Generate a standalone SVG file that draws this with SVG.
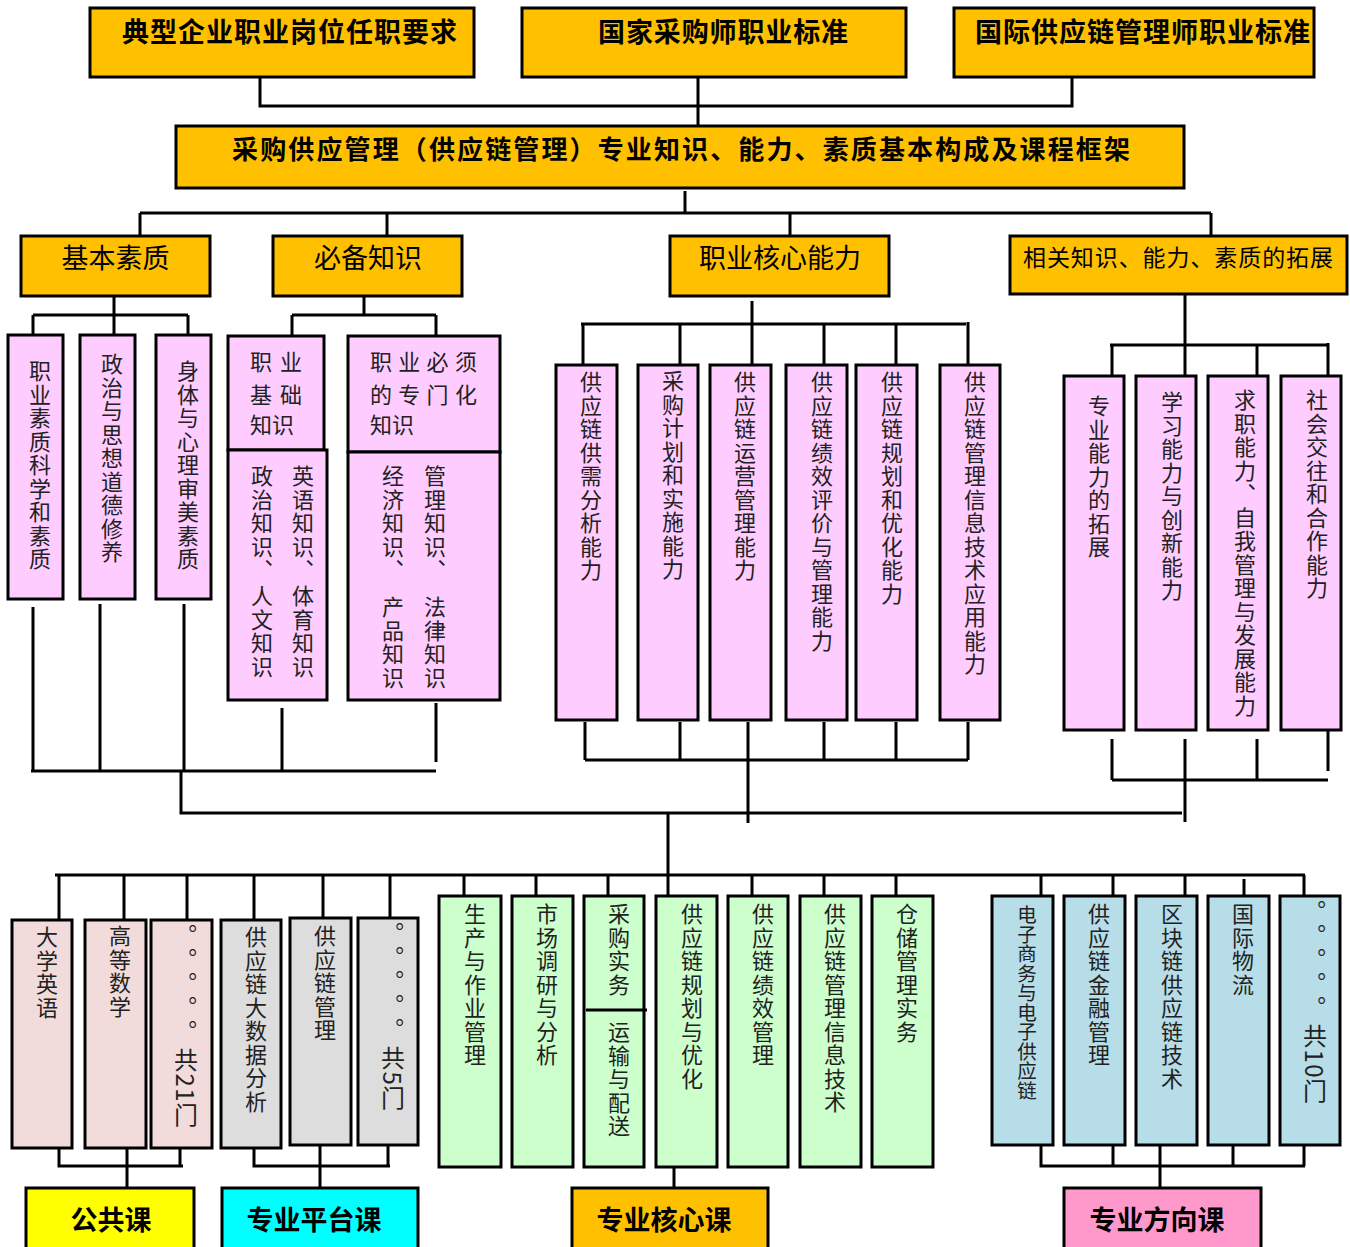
<svg xmlns="http://www.w3.org/2000/svg" width="1350" height="1247" viewBox="0 0 1350 1247">
<style>
.o{fill:#FFC000;stroke:#000;stroke-width:3}
.p{fill:#FFCCFF;stroke:#000;stroke-width:3}
.r{fill:#F2DCDB;stroke:#000;stroke-width:3}
.g{fill:#DDDDDD;stroke:#000;stroke-width:3}
.gr{fill:#CCFFCC;stroke:#000;stroke-width:3}
.b{fill:#B7DDE8;stroke:#000;stroke-width:3}
.t{font-family:"Noto Sans CJK SC","Noto Sans CJK JP",sans-serif;fill:#000}
.tb{font-family:"Noto Sans CJK SC","Noto Sans CJK JP",sans-serif;font-weight:bold;fill:#000}
.v{font-family:"Noto Sans CJK SC","Noto Sans CJK JP",sans-serif;font-size:22px;letter-spacing:1.5px;writing-mode:vertical-rl;fill:#222}
.h{font-family:"Noto Sans CJK SC","Noto Sans CJK JP",sans-serif;font-size:22px;fill:#222}
.c{fill:none;stroke:#000;stroke-width:3}
</style>
<g id="connectors" class="c">
<path d="M260 77V106H1072V77M698 77V126M685 191V213M140 213H1211M140 213V236M387 213V236M790 213V236M1211 213V236"/>
<path d="M114 296V315M33 315H188M33 315V335M114 315V335M188 315V335"/>
<path d="M364 297V315M292 315H436M292 315V336M436 315V336"/>
<path d="M752 301V365M581 324H966M583 324V365M680 324V365M824 324V365M896 324V365M968 322V365"/>
<path d="M1185 294V384M1110 345H1328M1112 345V376M1257 345V376M1328 343V376"/>
<path d="M33 607V771M100 604V771M184 604V771M282 708V771M436 703V762M31 771H436M181 771V813H1182"/>
<path d="M585 722V760M680 722V760M748 722V823M824 722V760M896 722V760M968 722V760M585 760H968"/>
<path d="M1112 739V780M1185 739V822M1257 739V780M1328 730V771M1112 780H1328"/>
<path d="M668 813V896M55 875H1305"/>
<path d="M59 875V920M124 875V920M187 875V920M254 875V920M323 875V918M390 875V920"/>
<path d="M464 875V896M536 875V896M608 875V896M752 875V896M824 875V896M896 875V896"/>
<path d="M1041 875V896M1113 875V896M1185 875V896M1244 879V896M1304 875V896"/>
<path d="M59 1148V1166H183M127 1148V1188M180 1148V1166"/>
<path d="M254 1148V1166H390M320 1145V1188M388 1145V1166"/>
<path d="M674 1167V1188"/>
<path d="M1041 1145V1166H1305M1113 1145V1166M1160 1145V1188M1233 1145V1166M1304 1145V1166"/>
</g>
<g id="n-top1"><rect class="o" x="90" y="8" width="384" height="69"/><text class="tb" x="289.5" y="42" font-size="27" text-anchor="middle" textLength="335">典型企业职业岗位任职要求</text></g>
<g id="n-top2"><rect class="o" x="522" y="8" width="384" height="69"/><text class="tb" x="723" y="42" font-size="27" text-anchor="middle" textLength="250">国家采购师职业标准</text></g>
<g id="n-top3"><rect class="o" x="954" y="8" width="360" height="69"/><text class="tb" x="1142.5" y="42" font-size="27" text-anchor="middle" textLength="335">国际供应链管理师职业标准</text></g>
<g id="n-main"><rect class="o" x="176" y="126" width="1008" height="62"/><text class="tb" x="681" y="159" font-size="26" text-anchor="middle" textLength="898">采购供应管理（供应链管理）专业知识、能力、素质基本构成及课程框架</text></g>
<g id="n-jbsz"><rect class="o" x="21" y="236" width="189" height="60"/><text class="t" x="115.5" y="268" font-size="27" text-anchor="middle">基本素质</text></g>
<g id="n-bbzs"><rect class="o" x="273" y="236" width="189" height="60"/><text class="t" x="368" y="268" font-size="27" text-anchor="middle">必备知识</text></g>
<g id="n-hxnl"><rect class="o" x="670" y="236" width="219" height="60"/><text class="t" x="780" y="268" font-size="27" text-anchor="middle">职业核心能力</text></g>
<g id="n-tz"><rect class="o" x="1010" y="236" width="337" height="58"/><text class="t" x="1178" y="266" font-size="23" text-anchor="middle" textLength="310">相关知识、能力、素质的拓展</text></g>
<g id="n-a1"><rect class="p" x="8" y="335" width="55" height="264"/><text class="v" x="40" y="360">职业素质科学和素质</text></g>
<g id="n-a2"><rect class="p" x="80" y="335" width="55" height="264"/><text class="v" x="112" y="353">政治与思想道德修养</text></g>
<g id="n-a3"><rect class="p" x="156" y="335" width="55" height="264"/><text class="v" x="188" y="360">身体与心理审美素质</text></g>
<g id="n-b1"><rect class="p" x="228" y="336" width="96" height="114"/><text class="h" x="250" y="370" letter-spacing="8">职业</text><text class="h" x="250" y="403" letter-spacing="8">基础</text><text class="h" x="250" y="433">知识</text></g>
<g id="n-b2"><rect class="p" x="228" y="450" width="99" height="250"/><text class="v" x="303" y="465">英语知识、</text><text class="v" x="303" y="585">体育知识</text><text class="v" x="262" y="465">政治知识、</text><text class="v" x="262" y="585">人文知识</text></g>
<g id="n-b3"><rect class="p" x="348" y="336" width="152" height="116"/><text class="h" x="370" y="370" letter-spacing="6.3">职业必须</text><text class="h" x="370" y="403" letter-spacing="6.3">的专门化</text><text class="h" x="370" y="433">知识</text></g>
<g id="n-b4"><rect class="p" x="348" y="452" width="152" height="248"/><text class="v" x="435" y="465">管理知识、</text><text class="v" x="435" y="596">法律知识</text><text class="v" x="393" y="465">经济知识、</text><text class="v" x="393" y="596">产品知识</text></g>
<g id="n-c1"><rect class="p" x="556" y="365" width="61" height="355"/><text class="v" x="591" y="371">供应链供需分析能力</text></g>
<g id="n-c2"><rect class="p" x="638" y="365" width="60" height="355"/><text class="v" x="673" y="370">采购计划和实施能力</text></g>
<g id="n-c3"><rect class="p" x="710" y="365" width="61" height="355"/><text class="v" x="745" y="371">供应链运营管理能力</text></g>
<g id="n-c4"><rect class="p" x="786" y="365" width="61" height="355"/><text class="v" x="822" y="371">供应链绩效评价与管理能力</text></g>
<g id="n-c5"><rect class="p" x="856" y="365" width="61" height="355"/><text class="v" x="892" y="371">供应链规划和优化能力</text></g>
<g id="n-c6"><rect class="p" x="940" y="365" width="60" height="355"/><text class="v" x="975" y="371">供应链管理信息技术应用能力</text></g>
<g id="n-d1"><rect class="p" x="1064" y="376" width="60" height="354"/><text class="v" x="1099" y="395">专业能力的拓展</text></g>
<g id="n-d2"><rect class="p" x="1136" y="376" width="60" height="354"/><text class="v" x="1172" y="391">学习能力与创新能力</text></g>
<g id="n-d3"><rect class="p" x="1208" y="376" width="60" height="354"/><text class="v" x="1245" y="389">求职能力、自我管理与发展能力</text></g>
<g id="n-d4"><rect class="p" x="1281" y="376" width="60" height="354"/><text class="v" x="1317" y="389">社会交往和合作能力</text></g>
<g id="n-e1"><rect class="r" x="12" y="920" width="60" height="228"/><text class="v" x="47" y="926">大学英语</text></g>
<g id="n-e2"><rect class="r" x="85" y="920" width="61" height="228"/><text class="v" x="120" y="925">高等数学</text></g>
<g id="n-e3"><rect class="r" x="151" y="920" width="61" height="228"/><text class="v" x="186" y="924">。</text><text class="v" x="186" y="948">。</text><text class="v" x="186" y="972">。</text><text class="v" x="186" y="996">。</text><text class="v" x="186" y="1020">。</text><text class="v" x="186" y="1048" style="font-size:24px">共21门</text></g>
<g id="n-f1"><rect class="g" x="221" y="920" width="60" height="228"/><text class="v" x="256" y="926">供应链大数据分析</text></g>
<g id="n-f2"><rect class="g" x="290" y="918" width="61" height="227"/><text class="v" x="325" y="925">供应链管理</text></g>
<g id="n-f3"><rect class="g" x="358" y="918" width="60" height="227"/><text class="v" x="393" y="922">。</text><text class="v" x="393" y="946">。</text><text class="v" x="393" y="970">。</text><text class="v" x="393" y="994">。</text><text class="v" x="393" y="1018">。</text><text class="v" x="393" y="1046" style="font-size:24px">共5门</text></g>
<g id="n-g1"><rect class="gr" x="439" y="896" width="62" height="271"/><text class="v" x="475" y="903">生产与作业管理</text></g>
<g id="n-g2"><rect class="gr" x="512" y="896" width="61" height="271"/><text class="v" x="547" y="903">市场调研与分析</text></g>
<g id="n-g3"><rect class="gr" x="584" y="896" width="60" height="271"/><path class="c" d="M586 1010H647"/><text class="v" x="619" y="903">采购实务</text><text class="v" x="619" y="1021">运输与配送</text></g>
<g id="n-g4"><rect class="gr" x="656" y="896" width="61" height="271"/><text class="v" x="692" y="903">供应链规划与优化</text></g>
<g id="n-g5"><rect class="gr" x="728" y="896" width="60" height="271"/><text class="v" x="763" y="903">供应链绩效管理</text></g>
<g id="n-g6"><rect class="gr" x="800" y="896" width="61" height="271"/><text class="v" x="835" y="903">供应链管理信息技术</text></g>
<g id="n-g7"><rect class="gr" x="872" y="896" width="61" height="271"/><text class="v" x="907" y="903">仓储管理实务</text></g>
<g id="n-h1"><rect class="b" x="992" y="896" width="61" height="249"/><text class="v" x="1027" y="905" style="font-size:19.5px;letter-spacing:0">电子商务与电子供应链</text></g>
<g id="n-h2"><rect class="b" x="1064" y="896" width="61" height="249"/><text class="v" x="1099" y="903">供应链金融管理</text></g>
<g id="n-h3"><rect class="b" x="1136" y="896" width="61" height="249"/><text class="v" x="1172" y="903">区块链供应链技术</text></g>
<g id="n-h4"><rect class="b" x="1208" y="896" width="61" height="249"/><text class="v" x="1243" y="903">国际物流</text></g>
<g id="n-h5"><rect class="b" x="1280" y="896" width="60" height="249"/><text class="v" x="1315" y="900">。</text><text class="v" x="1315" y="924">。</text><text class="v" x="1315" y="948">。</text><text class="v" x="1315" y="972">。</text><text class="v" x="1315" y="996">。</text><text class="v" x="1315" y="1024" style="font-size:24px">共10门</text></g>
<g id="n-ggk"><rect x="26" y="1188" width="168" height="70" fill="#FFFF00" stroke="#000" stroke-width="3"/><text class="tb" x="111" y="1230" font-size="27" text-anchor="middle">公共课</text></g>
<g id="n-zyptk"><rect x="222" y="1188" width="196" height="70" fill="#00FFFF" stroke="#000" stroke-width="3"/><text class="tb" x="314" y="1230" font-size="27" text-anchor="middle">专业平台课</text></g>
<g id="n-zyhxk"><rect x="572" y="1188" width="196" height="70" fill="#FFC000" stroke="#000" stroke-width="3"/><text class="tb" x="664" y="1230" font-size="27" text-anchor="middle">专业核心课</text></g>
<g id="n-zyfxk"><rect x="1064" y="1188" width="197" height="70" fill="#FF99CC" stroke="#000" stroke-width="3"/><text class="tb" x="1157" y="1230" font-size="27" text-anchor="middle">专业方向课</text></g>
</svg>
